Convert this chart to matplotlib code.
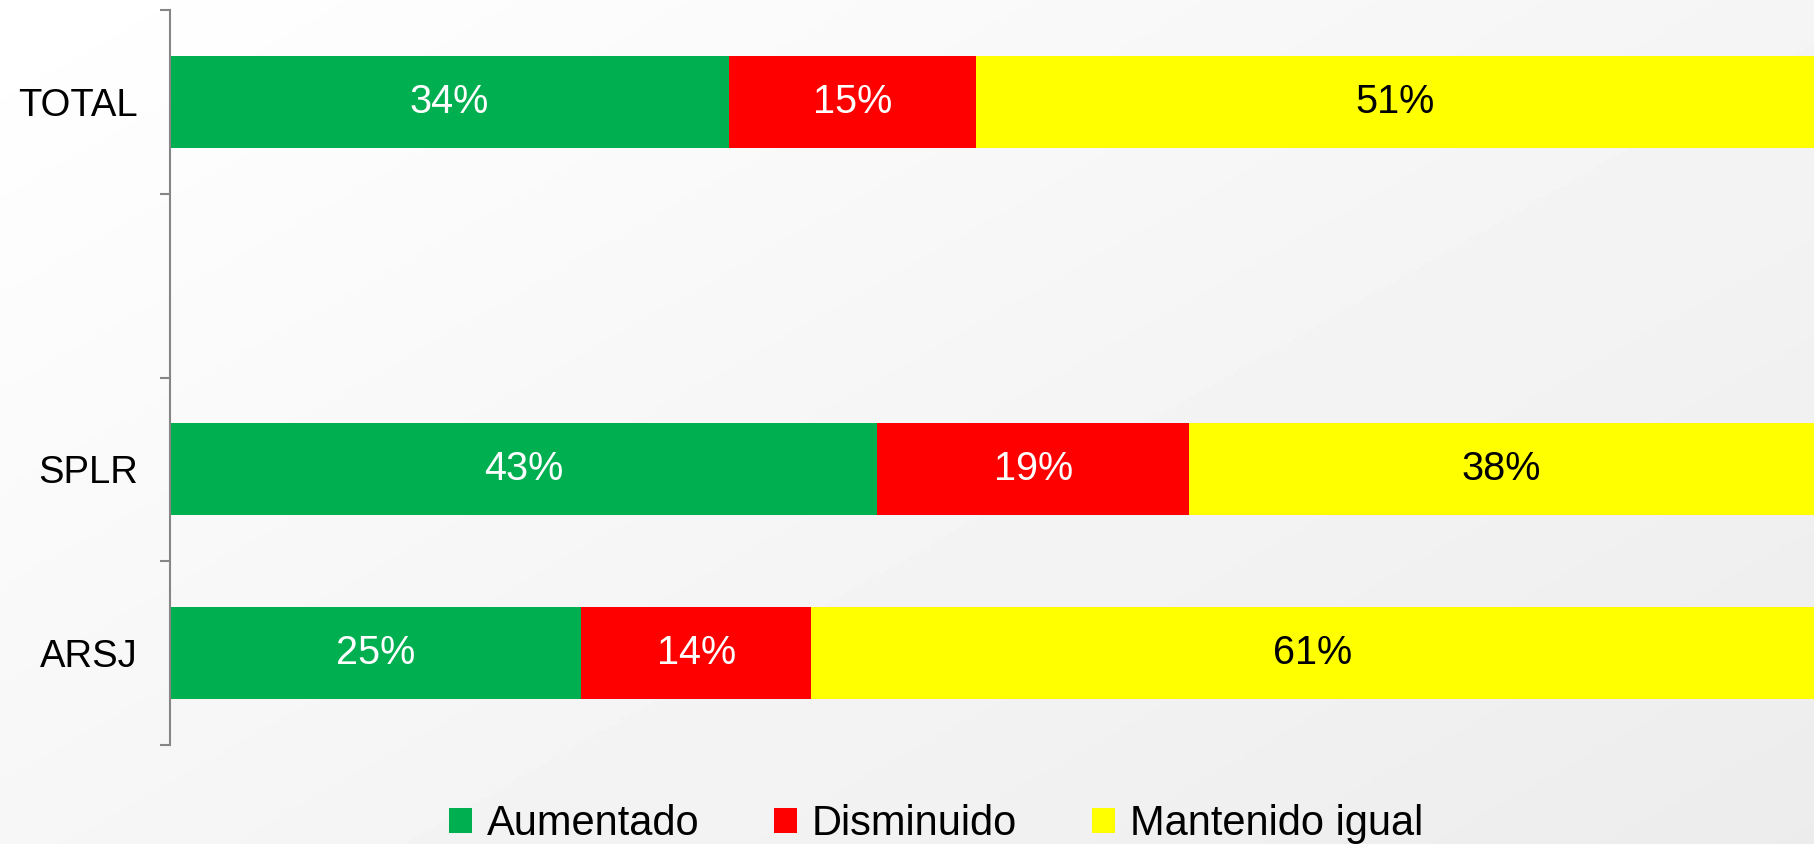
import numpy as np
import matplotlib.pyplot as plt
from matplotlib.patches import Patch

plt.rcParams['font.family'] = ['Liberation Sans', 'DejaVu Sans']

# Respuestas por grupo (porcentaje)
categorias = ['ARSJ', 'SPLR', '', 'TOTAL']
aumentado = [25, 43, np.nan, 34]
disminuido = [14, 19, np.nan, 15]
mantenido = [61, 38, np.nan, 51]

series = ['Aumentado', 'Disminuido', 'Mantenido igual']
colores = ['#00B050', '#FF0000', '#FFFF00']
color_texto = ['white', 'white', 'black']

fig = plt.figure(figsize=(18.14, 8.44), dpi=100)

# Fondo con degradado suave
bg = fig.add_axes([0, 0, 1, 1], zorder=-1)
xx, yy = np.meshgrid(np.linspace(0, 1, 400), np.linspace(0, 1, 200))
grad = 1.0 - 0.075 * (0.55 * xx + 0.45 * yy)
bg.imshow(grad, cmap='gray', vmin=0, vmax=1, aspect='auto', extent=[0, 1, 1, 0])
bg.axis('off')

ax = fig.add_axes([170 / 1814, 1 - 745 / 844, 1 - 170 / 1814, 735 / 844])
ax.set_facecolor('none')

y = np.arange(len(categorias))
left = np.zeros(len(categorias))
for vals, nombre, col, tcol in zip([aumentado, disminuido, mantenido], series, colores, color_texto):
    vals = np.array(vals, dtype=float)
    ax.barh(y, np.nan_to_num(vals), left=left, height=0.5, color=col, label=nombre)
    for yi, v, l in zip(y, vals, left):
        if not np.isnan(v):
            ax.text(l + v / 2, yi, f'{v:.0f}%', ha='center', va='center',
                    fontsize=28.5, color=tcol)
    left += np.nan_to_num(vals)

ax.set_xlim(0, 100)
ax.set_ylim(-0.5, len(categorias) - 0.5)
ax.set_xticks([])
ax.set_yticks(y)
ax.set_yticklabels(categorias, fontsize=27.5)
ax.tick_params(axis='y', which='major', length=0, pad=23)
ax.set_yticks(np.arange(-0.5, len(categorias)), minor=True)
ax.tick_params(axis='y', which='minor', length=7.5, width=1.5, color='#868686')
for s in ['top', 'right', 'bottom']:
    ax.spines[s].set_visible(False)
ax.spines['left'].set_color('#868686')
ax.spines['left'].set_linewidth(1.5)

handles = [Patch(facecolor=c, edgecolor='none') for c in colores]
fig.legend(handles, series, loc='center', bbox_to_anchor=(0.516, 1 - 824 / 844),
           ncol=3, frameon=False, fontsize=30, handlelength=0.55, handleheight=0.55,
           handletextpad=0.35, columnspacing=1.8, borderpad=0)

fig.savefig('out.png', dpi=100)
